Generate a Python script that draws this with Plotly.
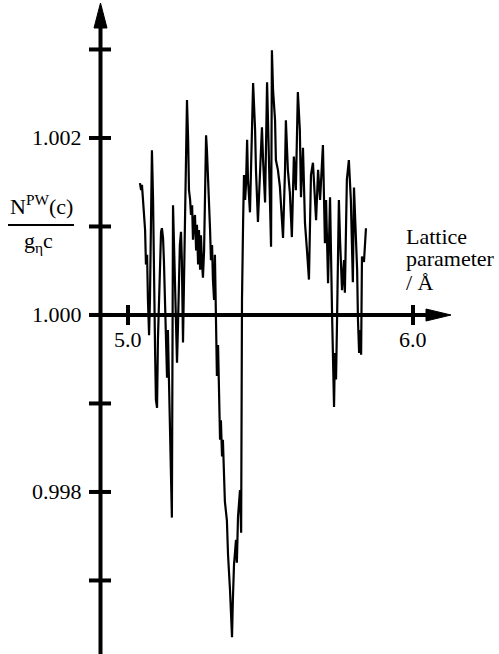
import plotly.graph_objects as go

# ---- data ----
lattice = [5.042, 5.046, 5.049, 5.053, 5.056, 5.060, 5.063, 5.067, 5.070, 5.074,
           5.077, 5.081, 5.084, 5.088, 5.091, 5.095, 5.098, 5.102, 5.105, 5.109,
           5.112, 5.116, 5.119, 5.123, 5.126, 5.130, 5.137, 5.140, 5.147, 5.154,
           5.158, 5.161, 5.165, 5.168, 5.172, 5.175, 5.179, 5.182, 5.186, 5.189,
           5.193, 5.200, 5.204, 5.207, 5.211, 5.214, 5.218, 5.221, 5.225, 5.228,
           5.232, 5.235, 5.239, 5.242, 5.246, 5.249, 5.253, 5.256, 5.260, 5.263,
           5.267, 5.270, 5.274, 5.277, 5.281, 5.284, 5.288, 5.291, 5.295, 5.298,
           5.302, 5.305, 5.309, 5.312, 5.316, 5.319, 5.323, 5.326, 5.330, 5.333,
           5.340, 5.347, 5.351, 5.358, 5.361, 5.365, 5.368, 5.372, 5.379, 5.382,
           5.386, 5.393, 5.397, 5.400, 5.404, 5.407, 5.411, 5.414, 5.418, 5.421,
           5.428, 5.432, 5.439, 5.446, 5.449, 5.456, 5.463, 5.470, 5.474, 5.481,
           5.488, 5.495, 5.498, 5.502, 5.505, 5.509, 5.516, 5.519, 5.526, 5.533,
           5.537, 5.544, 5.551, 5.554, 5.561, 5.568, 5.575, 5.582, 5.589, 5.596,
           5.603, 5.607, 5.614, 5.621, 5.628, 5.635, 5.642, 5.649, 5.660, 5.667,
           5.674, 5.684, 5.691, 5.695, 5.702, 5.709, 5.716, 5.723, 5.726, 5.730,
           5.733, 5.740, 5.744, 5.751, 5.758, 5.761, 5.768, 5.775, 5.782, 5.786,
           5.789, 5.793, 5.800, 5.804, 5.807, 5.811, 5.814, 5.818, 5.821, 5.828,
           5.835]
ratio = [1.00149, 1.00141, 1.00147, 1.00130, 1.00113, 1.00096, 1.00057, 1.00068, 1.00017, 0.99977,
         1.00017, 1.00130, 1.00186, 1.00130, 1.00028, 0.99960, 0.99904, 0.99895, 0.99972, 1.00017,
         1.00062, 1.00094, 1.00098, 1.00087, 1.00062, 1.00017, 0.99929, 0.99983, 0.99881, 0.99771,
         1.00124, 1.00085, 1.00040, 0.99994, 0.99946, 0.99983, 1.00051, 1.00079, 1.00094, 1.00062,
         0.99969, 1.00130, 1.00232, 1.00243, 1.00198, 1.00141, 1.00130, 1.00113, 1.00124, 1.00085,
         1.00107, 1.00113, 1.00073, 1.00102, 1.00057, 1.00096, 1.00051, 1.00090, 1.00057, 1.00042,
         1.00073, 1.00130, 1.00203, 1.00186, 1.00158, 1.00130, 1.00096, 1.00062, 1.00079, 1.00040,
         1.00017, 1.00068, 0.99983, 0.99931, 0.99966, 0.99896, 0.99859, 0.99881, 0.99840, 0.99859,
         0.99789, 0.99768, 0.99729, 0.99689, 0.99667, 0.99636, 0.99678, 0.99718, 0.99746, 0.99720,
         0.99772, 0.99802, 0.99754, 1.00017, 1.00107, 1.00158, 1.00130, 1.00147, 1.00198, 1.00153,
         1.00116, 1.00175, 1.00262, 1.00209, 1.00164, 1.00105, 1.00153, 1.00212, 1.00175, 1.00127,
         1.00263, 1.00186, 1.00130, 1.00077, 1.00299, 1.00254, 1.00220, 1.00175, 1.00164, 1.00145,
         1.00119, 1.00087, 1.00164, 1.00220, 1.00164, 1.00138, 1.00088, 1.00179, 1.00141, 1.00252,
         1.00209, 1.00133, 1.00189, 1.00104, 1.00073, 1.00040, 1.00158, 1.00172, 1.00107, 1.00164,
         1.00130, 1.00192, 1.00081, 1.00130, 1.00036, 1.00133, 1.00002, 0.99896, 0.99957, 0.99927,
         0.99983, 1.00130, 1.00085, 1.00028, 1.00062, 1.00025, 1.00153, 1.00175, 1.00130, 1.00085,
         1.00037, 1.00144, 1.00096, 1.00051, 0.99994, 0.99957, 0.99983, 0.99955, 1.00066, 1.00060,
         1.00098]

y_ticks = [1.003, 1.002, 1.001, 1.000, 0.999, 0.998, 0.997]
y_tick_labels = {1.002: "1.002", 1.000: "1.000", 0.998: "0.998"}
x_ticks = [5.0, 6.0]
x_tick_labels = ["5.0", "6.0"]

W, H = 499, 654
FONT = "Liberation Serif, Times New Roman, serif"


def PX(p):
    return p / W


def PY(p):
    return 1 - p / H


fig = go.Figure()
fig.add_trace(go.Scatter(x=lattice, y=ratio, mode="lines",
                         line=dict(color="black", width=2.2), hoverinfo="skip"))

shapes = []
ann = []
# vertical axis
shapes.append(dict(type="line", xref="paper", yref="paper", x0=PX(100.5), x1=PX(100.5),
                   y0=PY(654), y1=PY(22), line=dict(color="black", width=4)))
shapes.append(dict(type="path", xref="paper", yref="paper",
                   path=f"M {PX(100.5)},{PY(3)} L {PX(94)},{PY(28)} L {PX(107)},{PY(28)} Z",
                   fillcolor="black", line=dict(color="black", width=1)))
# horizontal axis at 1.000
shapes.append(dict(type="line", xref="paper", yref="y", x0=PX(90), x1=PX(430),
                   y0=1.0, y1=1.0, line=dict(color="black", width=4)))
shapes.append(dict(type="path", xref="paper", yref="paper",
                   path=f"M {PX(451)},{PY(315)} L {PX(426)},{PY(309)} L {PX(426)},{PY(321)} Z",
                   fillcolor="black", line=dict(color="black", width=1)))
# y ticks
for v in y_ticks:
    shapes.append(dict(type="line", xref="paper", yref="y", x0=PX(89), x1=PX(111),
                       y0=v, y1=v, line=dict(color="black", width=4)))
    if v in y_tick_labels:
        ann.append(dict(x=PX(84), y=v, xref="paper", yref="y", text=y_tick_labels[v],
                        xanchor="right", yanchor="middle", showarrow=False,
                        font=dict(family=FONT, size=22, color="black")))
# x ticks
for xv, lab in zip(x_ticks, x_tick_labels):
    shapes.append(dict(type="line", xref="x", yref="paper", x0=xv, x1=xv,
                       y0=PY(305), y1=PY(325), line=dict(color="black", width=4)))
    ann.append(dict(x=xv, y=PY(339), xref="x", yref="paper", text=lab,
                    xanchor="center", yanchor="middle", showarrow=False,
                    font=dict(family=FONT, size=22, color="black")))

# y-axis title as a fraction
shapes.append(dict(type="line", xref="paper", yref="paper", x0=PX(8), x1=PX(74),
                   y0=PY(225), y1=PY(225), line=dict(color="black", width=2)))
ann.append(dict(x=PX(41), y=PY(205), xref="paper", yref="paper",
                text="N<sup>PW</sup>(c)", xanchor="center", yanchor="middle",
                showarrow=False, font=dict(family=FONT, size=22, color="black")))
ann.append(dict(x=PX(38), y=PY(242), xref="paper", yref="paper",
                text="g<sub>η</sub>c", xanchor="center", yanchor="middle",
                showarrow=False, font=dict(family=FONT, size=22, color="black")))

# x-axis title
for txt, yy in [("Lattice", 236), ("parameter", 258), ("/ Å", 282)]:
    ann.append(dict(x=PX(404), y=PY(yy), xref="paper", yref="paper", text=txt,
                    xanchor="left", yanchor="middle", showarrow=False,
                    font=dict(family=FONT, size=22, color="black")))

fig.update_layout(
    width=W, height=H,
    margin=dict(l=0, r=0, t=0, b=0),
    paper_bgcolor="white", plot_bgcolor="white",
    showlegend=False,
    xaxis=dict(range=[4.5509, 6.3018], visible=False, fixedrange=True),
    yaxis=dict(range=[0.996169, 1.003559], visible=False, fixedrange=True),
    shapes=shapes, annotations=ann,
)

fig.write_html("out.html", config={"displayModeBar": False},
               post_script="document.body.style.margin='0';")
